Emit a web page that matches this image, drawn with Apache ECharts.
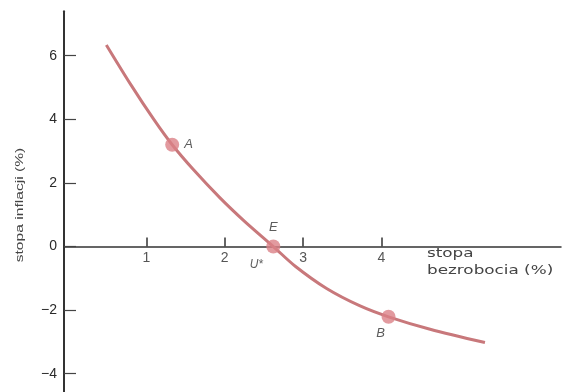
<!DOCTYPE html>
<html>
<head>
<meta charset="utf-8">
<script src="https://cdn.jsdelivr.net/npm/echarts@6/dist/echarts.min.js"></script>
<style>
html,body{margin:0;padding:0;background:#fff;}
#chart{width:564px;height:392px;}
</style>
</head>
<body>
<div id="chart"></div>
<script>
// Phillips curve data (unemployment %, inflation %)
var curveX = [0.49, 0.80, 1.10, 1.33, 1.60, 1.94, 2.25, 2.62, 2.90, 3.30, 3.72, 4.09, 4.62, 5.32];
var curveY = [6.34, 5.10, 3.98, 3.20, 2.42, 1.53, 0.80, 0.00, -0.62, -1.32, -1.86, -2.21, -2.60, -3.02];
var pointNames = ['A', 'E', 'B'];
var pointX = [1.33, 2.62, 4.09];
var pointY = [3.20, 0.00, -2.21];
var xTicks = [1, 2, 3, 4];
var yTicks = [-4, -2, 0, 2, 4, 6];
var xName = ['stopa', 'bezrobocia (%)'];
var yName = 'stopa inflacji (%)';
var naturalLabel = 'U*';

var chart = echarts.init(document.getElementById('chart'), null, {renderer: 'canvas'});
var font = '"Liberation Sans", Arial, sans-serif';
var curveData = curveX.map(function (x, i) { return [x, curveY[i]]; });
var labelPos = {A: {position: 'right', distance: 5}, E: {position: 'top', distance: 6}, B: {position: 'bottom', distance: 3, offset: [-8, 0]}};
var pts = pointNames.map(function (n, i) {
  var lp = labelPos[n];
  return {value: [pointX[i], pointY[i]], name: n, label: {show: true, formatter: n, position: lp.position, distance: lp.distance, offset: lp.offset || [0, 0]}};
});
var xTickData = xTicks.map(function (v) { return {value: [v, 0], name: String(v)}; });

chart.setOption({
  animation: false,
  backgroundColor: '#ffffff',
  grid: {left: 64, top: 11.2, width: 497, height: 381.6, containLabel: false, outerBoundsMode: 'none'},
  xAxis: {
    type: 'value', min: -0.05, max: 6.29,
    axisLine: {show: true, onZero: true, lineStyle: {color: '#333', width: 1.5}},
    axisTick: {show: true, inside: true, length: 9, customValues: xTicks, lineStyle: {color: '#333', width: 1.5}},
    axisLabel: {show: false},
    splitLine: {show: false}
  },
  yAxis: {
    type: 'value', min: -4.6, max: 7.4,
    axisLine: {show: true, onZero: false, lineStyle: {color: '#333', width: 2}},
    axisTick: {show: true, inside: true, length: 12, customValues: yTicks, lineStyle: {color: '#444', width: 1.2}},
    axisLabel: {show: true, customValues: yTicks, margin: 7, fontSize: 14, color: '#2a2a2a', fontFamily: font,
      formatter: function (v) { return String(v).replace('-', '\u2212'); }},
    splitLine: {show: false}
  },
  series: [
    {
      type: 'line', data: curveData, smooth: 0.3, showSymbol: false, symbol: 'none',
      lineStyle: {color: '#c8787b', width: 3}, z: 2
    },
    {
      type: 'scatter', data: pts, symbolSize: 14,
      itemStyle: {color: '#db8187'},
      label: {color: '#333', fontSize: 13, fontStyle: 'italic', fontFamily: font},
      z: 3
    },
    {
      type: 'scatter', data: [[pointX[1], pointY[1]]], symbolSize: 0, silent: true,
      label: {show: true, formatter: naturalLabel, position: 'bottom', offset: [-17, 7], color: '#333', fontSize: 12, fontStyle: 'italic', fontFamily: font},
      z: 3
    },
    {
      // x-axis tick labels
      type: 'scatter', data: xTickData, symbolSize: 0, silent: true,
      label: {show: true, formatter: '{b}', position: 'bottom', distance: 5, color: '#2a2a2a', fontSize: 14, fontFamily: font},
      z: 3
    }
  ],
  graphic: [
    {type: 'text', left: 427, top: 246, scaleX: 1.4, originX: 0, style: {text: xName.join('\n'), font: '12px "DejaVu Sans", sans-serif', fill: '#444', lineHeight: 16.5}},
    {type: 'text', x: 20, y: 205, rotation: Math.PI / 2, scaleX: 1.42, style: {text: yName, font: '11px "Liberation Sans", Arial, sans-serif', fill: '#444', align: 'center', verticalAlign: 'middle'}}
  ]
});
</script>
</body>
</html>
